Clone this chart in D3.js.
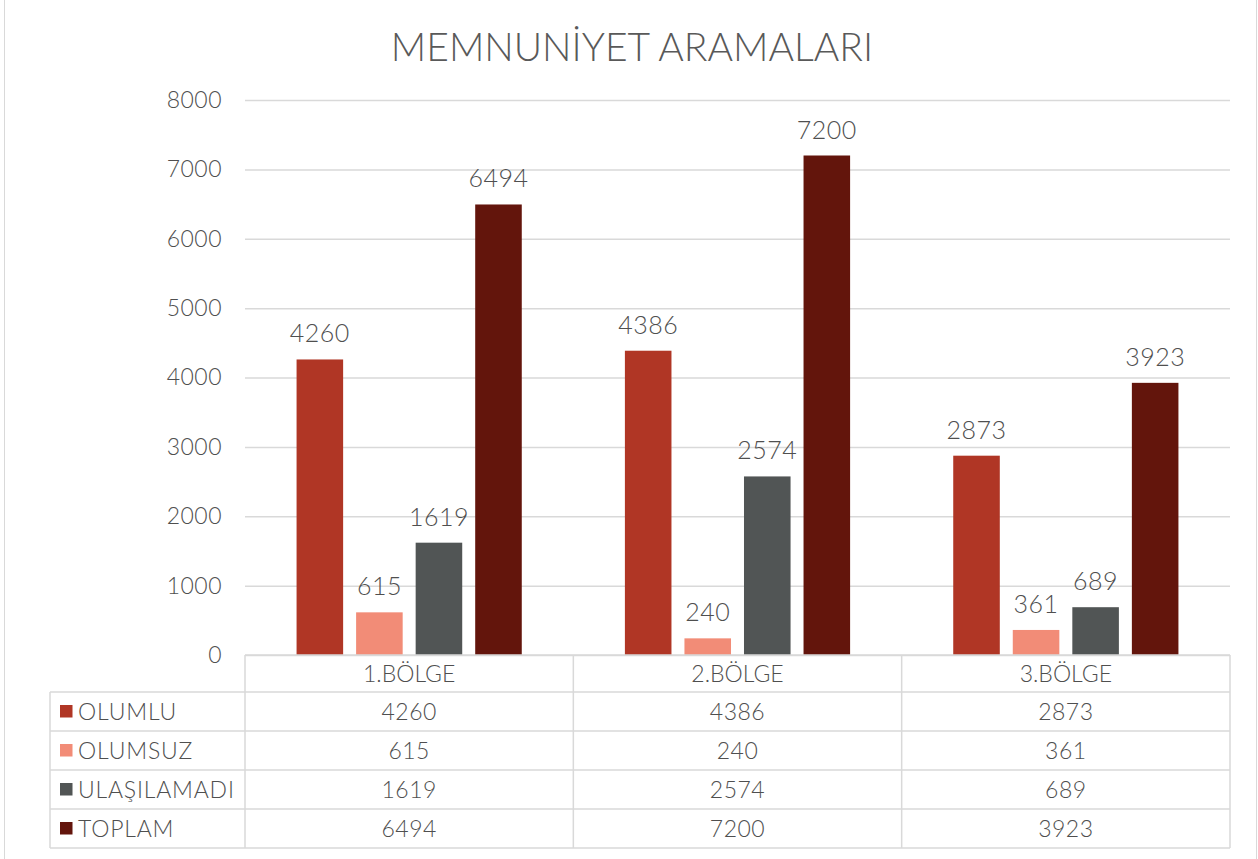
<!DOCTYPE html>
<html>
<head>
<meta charset="utf-8">
<script src="https://cdn.jsdelivr.net/npm/d3@7"></script>
<style>
  html, body { margin: 0; padding: 0; background: #fff; }
  svg { display: block; font-family: Lato, "Open Sans", sans-serif; }
</style>
</head>
<body>
<svg id="chart" width="1258" height="859"></svg>
<script>
// Regions and call-result series
const regions = ["1.BÖLGE", "2.BÖLGE", "3.BÖLGE"];
const seriesNames = ["OLUMLU", "OLUMSUZ", "ULAŞILAMADI", "TOPLAM"];
const olumlu = [4260, 4386, 2873];
const olumsuz = [615, 240, 361];
const ulasilamadi = [1619, 2574, 689];
const toplam = [6494, 7200, 3923];
const yTicks = [0, 1000, 2000, 3000, 4000, 5000, 6000, 7000, 8000];
const colors = ["#B03625", "#F28C77", "#515555", "#63150C"];
const title = "MEMNUNİYET ARAMALARI";

const seriesValues = [olumlu, olumsuz, ulasilamadi, toplam];
const series = seriesNames.map((name, i) => ({ name, color: colors[i], values: seriesValues[i] }));

const svg = d3.select("#chart");
const textColor = "#4f4f4f";
const gridColor = "#d9d9d9";
const textWeight = 300;

const plot = { left: 245, right: 1230, top: 100, bottom: 655 };
const table = { left: 50, headerTop: 655, rowTop: 692, rowH: 39 };

// Outer chart frame
svg.append("rect")
  .attr("x", 4.5).attr("y", -2).attr("width", 1252).attr("height", 864)
  .attr("fill", "none").attr("stroke", gridColor).attr("stroke-width", 1);

// Title
svg.append("text")
  .attr("x", 632).attr("y", 61)
  .attr("text-anchor", "middle")
  .attr("fill", "#595959")
  .attr("font-size", 39)
  .attr("font-weight", 300)
  .text(title);

const x0 = d3.scaleBand().domain(regions).range([plot.left, plot.right]).paddingInner(0).paddingOuter(0);
const x1 = d3.scaleBand().domain(seriesNames).range([0, x0.bandwidth()]).paddingInner(0.218).paddingOuter(0.866);
const y = d3.scaleLinear().domain([0, 8000]).range([plot.bottom, plot.top]);

// Gridlines and value axis
const yAxis = d3.axisLeft(y).tickValues(yTicks).tickFormat(d3.format("d"))
  .tickSize(-(plot.right - plot.left)).tickPadding(23);
const yg = svg.append("g").attr("transform", `translate(${plot.left},0)`).call(yAxis);
yg.select(".domain").remove();
yg.selectAll(".tick line").attr("stroke", gridColor).attr("stroke-width", 1.5);
yg.selectAll(".tick text")
  .attr("fill", textColor)
  .attr("font-size", 23)
  .attr("font-family", "Lato, 'Open Sans', sans-serif")
  .attr("font-weight", textWeight)
  .attr("letter-spacing", 0.5);

// Bars
const groups = svg.append("g").selectAll("g")
  .data(regions)
  .join("g")
  .attr("transform", d => `translate(${x0(d)},0)`);

groups.selectAll("rect")
  .data((d, ri) => series.map(s => ({ name: s.name, color: s.color, value: s.values[ri] })))
  .join("rect")
  .attr("x", d => x1(d.name))
  .attr("width", x1.bandwidth())
  .attr("y", d => y(d.value))
  .attr("height", d => y(0) - y(d.value))
  .attr("fill", d => d.color);

// Data labels above bars
groups.selectAll("text.val")
  .data((d, ri) => series.map(s => ({ name: s.name, value: s.values[ri] })))
  .join("text")
  .attr("class", "val")
  .attr("x", d => x1(d.name) + x1.bandwidth() / 2)
  .attr("y", d => y(d.value) - 17)
  .attr("text-anchor", "middle")
  .attr("fill", textColor)
  .attr("font-size", 25)
  .attr("font-weight", textWeight)
  .attr("letter-spacing", 0.5)
  .text(d => d.value);

// Data table beneath the plot
const tg = svg.append("g");
const tableBottom = table.rowTop + table.rowH * series.length;
const lineStyle = sel => sel.attr("stroke", gridColor).attr("stroke-width", 1.5);

// horizontal lines
tg.append("line").attr("x1", plot.left).attr("x2", plot.right).attr("y1", table.headerTop).attr("y2", table.headerTop).call(lineStyle);
d3.range(series.length + 1).forEach(i => {
  const yy = table.rowTop + i * table.rowH;
  tg.append("line").attr("x1", table.left).attr("x2", plot.right).attr("y1", yy).attr("y2", yy).call(lineStyle);
});
// vertical lines
tg.append("line").attr("x1", table.left).attr("x2", table.left).attr("y1", table.rowTop).attr("y2", tableBottom).call(lineStyle);
regions.forEach(r => {
  tg.append("line").attr("x1", x0(r)).attr("x2", x0(r)).attr("y1", table.headerTop).attr("y2", tableBottom).call(lineStyle);
});
tg.append("line").attr("x1", plot.right).attr("x2", plot.right).attr("y1", table.headerTop).attr("y2", tableBottom).call(lineStyle);

// header labels
tg.selectAll("text.hdr")
  .data(regions)
  .join("text")
  .attr("class", "hdr")
  .attr("x", d => x0(d) + x0.bandwidth() / 2)
  .attr("y", (table.headerTop + table.rowTop) / 2)
  .attr("dy", "0.35em")
  .attr("text-anchor", "middle")
  .attr("fill", textColor)
  .attr("font-size", 23)
  .attr("font-weight", textWeight)
  .text(d => d);

// rows: legend key + values
series.forEach((s, i) => {
  const cy = table.rowTop + i * table.rowH + table.rowH / 2;
  tg.append("rect")
    .attr("x", 60).attr("y", cy - 6.5).attr("width", 12.5).attr("height", 12.5)
    .attr("fill", s.color);
  tg.append("text")
    .attr("x", 78).attr("y", cy).attr("dy", "0.35em")
    .attr("fill", textColor).attr("font-size", 23).attr("font-weight", textWeight)
    .attr("letter-spacing", 0.8)
    .text(s.name);
  regions.forEach((r, ri) => {
    tg.append("text")
      .attr("x", x0(r) + x0.bandwidth() / 2).attr("y", cy).attr("dy", "0.35em")
      .attr("text-anchor", "middle")
      .attr("fill", textColor).attr("font-size", 23).attr("font-weight", textWeight)
      .attr("letter-spacing", 0.5)
      .text(s.values[ri]);
  });
});
</script>
</body>
</html>
